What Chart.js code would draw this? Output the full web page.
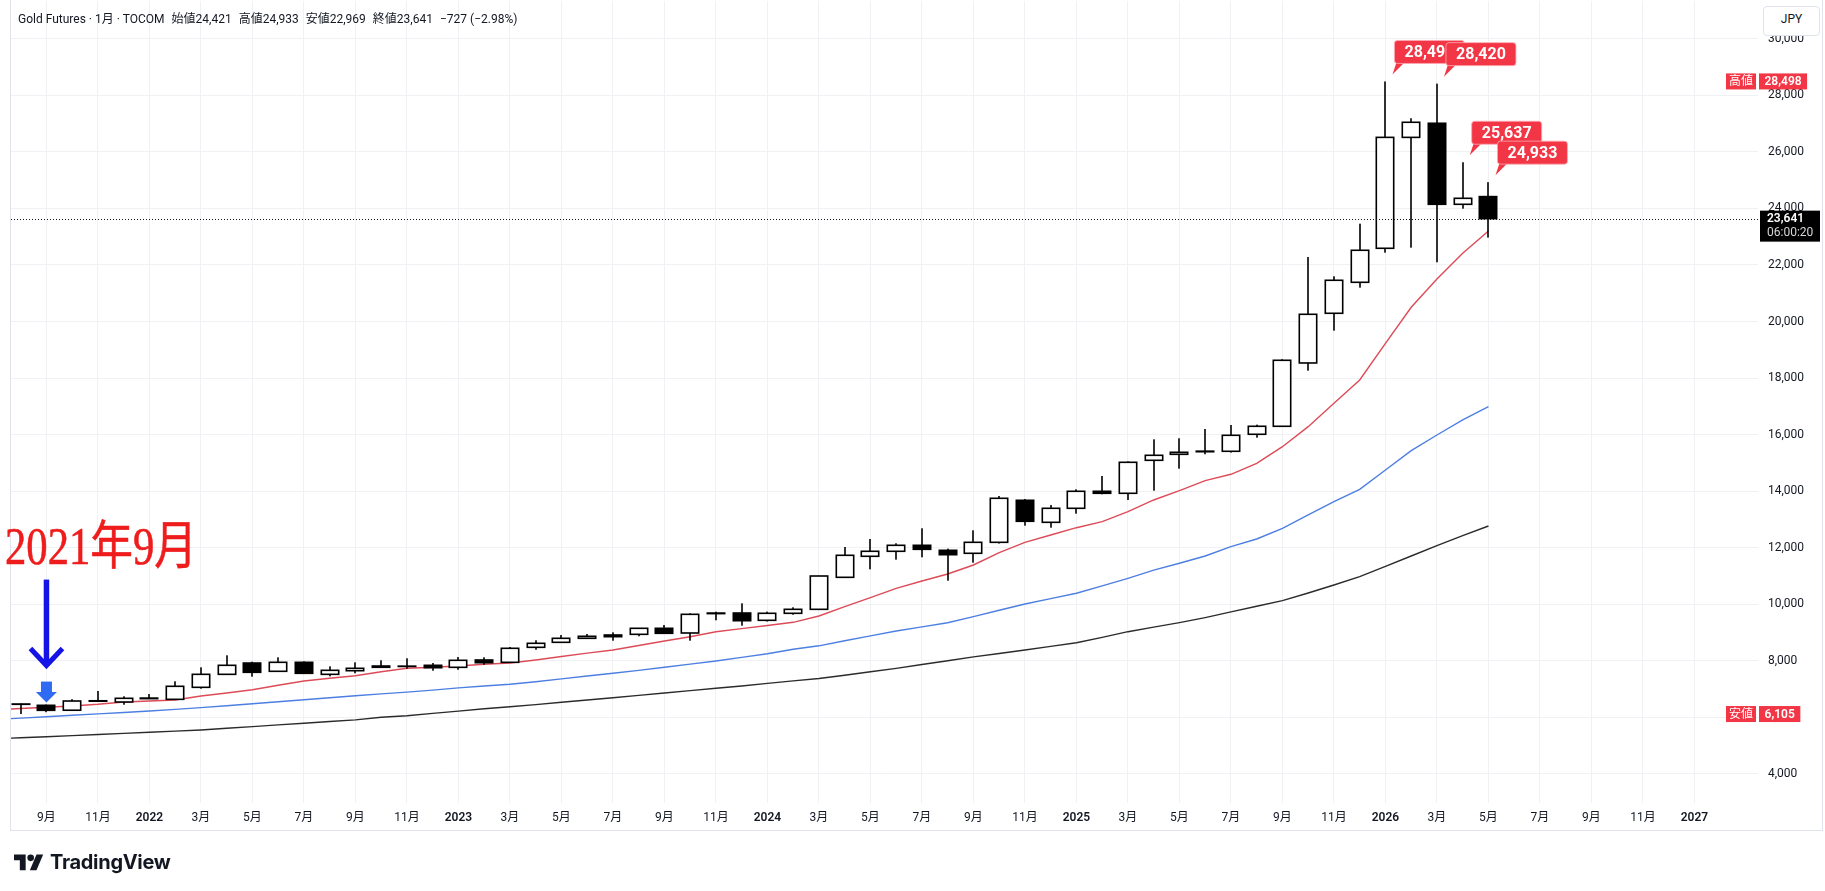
<!DOCTYPE html>
<html lang="ja">
<head>
<meta charset="utf-8">
<title>Gold Futures · 1月 · TOCOM</title>
<script src="https://cdn.jsdelivr.net/npm/chart.js@4.4.1/dist/chart.umd.min.js"></script>
<style>
  html, body { margin: 0; padding: 0; background: #fff; }
  body { width: 1825px; height: 891px; position: relative; overflow: hidden;
         font-family: Roboto, "Noto Sans CJK JP", sans-serif; color: #131722; }
  #chart { position: absolute; left: 0; top: 0; }
  #frame { position: absolute; left: 10px; top: -1px; width: 1813px; height: 832px;
           border: 1px solid #e0e3eb; box-sizing: border-box; pointer-events: none; }
  #legend { position: absolute; left: 18px; top: 9px; font-size: 12px; white-space: nowrap; }
  #legend span { margin-right: 7px; }
  #jpy { position: absolute; left: 1763px; top: 6px; width: 57px; height: 30px; background: #fff;
         border: 1px solid #e0e3eb; border-radius: 4px; box-sizing: border-box;
         font-size: 12px; text-align: center; line-height: 24px; }
  #note { position: absolute; left: 5px; top: 519px; color: #ee1c1c; font-size: 52px;
          font-family: "Liberation Serif", "Noto Sans CJK JP", serif; white-space: nowrap;
          -webkit-text-stroke: 0.6px #ee1c1c;
          transform: scaleX(0.82); transform-origin: 0 0; line-height: 56px; }
  #logo { position: absolute; left: 14px; top: 850px; display: flex; align-items: center;
          font-family: Inter, Roboto, sans-serif; font-weight: 700; font-size: 20px; letter-spacing: -0.3px; }
  #logo svg { margin-right: 6px; }
</style>
</head>
<body>
<canvas id="chart" width="1825" height="891"></canvas>
<div id="frame"></div>
<div id="legend"><span>Gold Futures · 1月 · TOCOM</span><span>始値24,421</span><span>高値24,933</span><span>安値22,969</span><span>終値23,641</span><span>−727 (−2.98%)</span></div>
<div id="jpy">JPY</div>
<div id="note">2021年9月</div>
<div id="logo"><svg width="30" height="20" viewBox="0 0 36 24"><path d="M14 22H7V10H0V3h14z" fill="#131722"/><circle cx="20" cy="7" r="4" fill="#131722"/><path d="M27 22h-8l8-19h8z" fill="#131722"/></svg>TradingView</div>
<script>
/* ──────── DATA ──────── */

// monthly candles, Aug 2021 .. May 2026 (index 0 = 2021-08)
const months = [
  '2021-08','2021-09','2021-10','2021-11','2021-12',
  '2022-01','2022-02','2022-03','2022-04','2022-05','2022-06','2022-07','2022-08','2022-09','2022-10','2022-11','2022-12',
  '2023-01','2023-02','2023-03','2023-04','2023-05','2023-06','2023-07','2023-08','2023-09','2023-10','2023-11','2023-12',
  '2024-01','2024-02','2024-03','2024-04','2024-05','2024-06','2024-07','2024-08','2024-09','2024-10','2024-11','2024-12',
  '2025-01','2025-02','2025-03','2025-04','2025-05','2025-06','2025-07','2025-08','2025-09','2025-10','2025-11','2025-12',
  '2026-01','2026-02','2026-03','2026-04','2026-05'
];
const opens = [
  6450, 6414, 6240, 6560, 6531,
  6650, 6626, 7051, 7511, 7911, 7618, 7936, 7511, 7639, 7805, 7790, 7830,
  7759, 8018, 7936, 8467, 8644, 8786, 8903, 8927, 9140, 8974, 9660, 9681,
  9423, 9671, 9812, 10945, 11689, 11866, 12078, 11901, 11795, 12184, 13671, 12892,
  13388, 13990, 13919, 15087, 15299, 15390, 15406, 16008, 16291, 18532, 20291, 21388,
  22592, 26518, 27017, 24149, 24421
];
const highs = [
  6475, 6440, 6630, 6920, 6733,
  6814, 7264, 7759, 8184, 7958, 8113, 7970, 7795, 7936, 8007, 8078, 7911,
  8124, 8113, 8478, 8715, 8903, 8938, 8998, 9150, 9257, 9670, 9728, 10025,
  9730, 9883, 11000, 12018, 12301, 12149, 12680, 11960, 12609, 13823, 13717, 13505,
  14060, 14531, 15050, 15830, 15866, 16195, 16337, 16348, 18663, 22284, 21601, 23463,
  28498, 27194, 28420, 25637, 24933
];
const lows = [
  6105, 6170, 6230, 6530, 6435,
  6640, 6610, 7002, 7500, 7427, 7600, 7520, 7440, 7547, 7740, 7710, 7639,
  7674, 7851, 7920, 8382, 8630, 8770, 8701, 8857, 8950, 8701, 9423, 9232,
  9380, 9620, 9800, 10920, 11228, 11569, 11653, 10825, 11462, 12140, 12772, 12701,
  13197, 13883, 13682, 14011, 14790, 15300, 15360, 15887, 16280, 18259, 19675, 21197,
  22436, 22613, 22096, 23993, 22969
];
const closes = [
  6460, 6237, 6566, 6575, 6662,
  6670, 7087, 7511, 7830, 7582, 7936, 7547, 7653, 7724, 7760, 7800, 7745,
  8007, 7922, 8432, 8609, 8786, 8857, 8843, 9140, 8963, 9635, 9680, 9409,
  9671, 9812, 10991, 11724, 11866, 12078, 11936, 11745, 12184, 13742, 12928, 13388,
  13990, 13919, 15016, 15264, 15370, 15410, 15972, 16291, 18627, 20255, 21459, 22521,
  26518, 27052, 24149, 24361, 23641
];

// moving averages, first value is 2021-07 (just left of the view)
const maRed = [
  6260, 6300, 6343, 6390, 6450, 6531, 6566, 6602, 6743, 6850, 6966, 7122, 7274, 7370, 7462, 7604, 7724,
  7760, 7805, 7865, 7911, 8020, 8140, 8260, 8372, 8530, 8690, 8843, 9020, 9130, 9240, 9352, 9575,
  9905, 10223, 10556, 10814, 11062, 11381, 11816, 12184, 12443, 12701, 12914, 13268, 13682, 14011,
  14365, 14592, 14981, 15569, 16277, 17105, 17930, 19229, 20503, 21505, 22415, 23205
];
const maBlue = [
  5910, 5960, 6011, 6060, 6110, 6160, 6210, 6270, 6331, 6400, 6470, 6540, 6610, 6680, 6750, 6820, 6880,
  6950, 7030, 7100, 7158, 7250, 7350, 7450, 7547, 7650, 7760, 7870, 7982, 8110, 8240, 8400, 8520,
  8701, 8870, 9044, 9190, 9338, 9551, 9780, 10000, 10190, 10379, 10640, 10910, 11200, 11441,
  11699, 12029, 12301, 12680, 13151, 13622, 14060, 14744, 15427, 15983, 16514, 16985
];
const maBlack = [
  5230, 5265, 5300, 5340, 5380, 5420, 5460, 5500, 5540, 5600, 5660, 5720, 5780, 5840, 5900, 5990, 6045,
  6130, 6210, 6290, 6365, 6440, 6520, 6600, 6683, 6766, 6850, 6933, 7016, 7100, 7190, 7280, 7365,
  7480, 7600, 7720, 7860, 7990, 8130, 8250, 8372, 8500, 8630, 8820, 9020, 9180, 9340,
  9520, 9720, 9920, 10120, 10390, 10673, 10967, 11330, 11700, 12070, 12420, 12761
];

// time axis: one label every two months, starting at 2021-09 (index 1)
const axisLabels = [
  '9月','11月','2022','3月','5月','7月','9月','11月','2023','3月','5月','7月','9月','11月',
  '2024','3月','5月','7月','9月','11月','2025','3月','5月','7月','9月','11月',
  '2026','3月','5月','7月','9月','11月','2027'
];
const priceTicks = [4000, 6000, 8000, 10000, 12000, 14000, 16000, 18000, 20000, 22000, 24000, 26000, 28000, 30000];

// flagged highs and range labels
const calloutIdx = [53, 55, 56, 57];
const rangeHigh = 28498;
const rangeLow = 6105;
const markIdx = 1;   // 2021-09

/* ──────── LAYOUT ──────── */

const X_MIN = -0.377, X_MAX = 67.468;
const Y_MIN = 2956, Y_MAX = 31345;
const RED = '#dc4b57', BLUE = '#4d7fe2', BLACK = '#2b2b2b';
const GRID = '#eff1f5';
const TV_RED = '#f23645';

Chart.defaults.font.family = 'Roboto, "Noto Sans CJK JP", sans-serif';
Chart.defaults.color = '#131722';

const tickIdx = axisLabels.map((_, i) => 1 + i * 2);
const fmt = v => Number(v).toLocaleString('en-US');
const maPoints = arr => arr.map((v, i) => ({ x: i - 1, y: v }));
const noPad = s => { s.paddingTop = 0; s.paddingBottom = 0; s.paddingLeft = 0; s.paddingRight = 0; };

/* ──────── CANDLES ──────── */

const candlePlugin = {
  id: 'candles',
  afterDatasetsDraw(chart) {
    const { ctx, chartArea: a, scales: { x, y } } = chart;
    const step = x.getPixelForValue(1) - x.getPixelForValue(0);
    const bw = Math.round(step * 0.74);
    const lw = 1.6;
    ctx.save();
    ctx.beginPath();
    ctx.rect(a.left, a.top, a.right - a.left, a.bottom - a.top);
    ctx.clip();
    opens.forEach((o, i) => {
      const c = closes[i];
      const cx = Math.round(x.getPixelForValue(i));
      const yo = y.getPixelForValue(o), yc = y.getPixelForValue(c);
      const yh = y.getPixelForValue(highs[i]), yl = y.getPixelForValue(lows[i]);
      const top = Math.min(yo, yc), bot = Math.max(yo, yc);
      const left = cx - bw / 2;
      ctx.fillStyle = '#000';
      ctx.fillRect(cx - 0.8, yh, 1.6, top - yh);
      ctx.fillRect(cx - 0.8, bot, 1.6, yl - bot);
      const h = Math.max(bot - top, 0);
      ctx.fillRect(left, top - lw / 2, bw, h + lw);
      if (c >= o && h > lw) {
        ctx.fillStyle = '#fff';
        ctx.fillRect(left + lw, top + lw / 2, bw - 2 * lw, h - lw);
      }
    });
    ctx.restore();
  }
};

/* ──────── ANNOTATIONS ──────── */

function roundRect(ctx, x, y, w, h, r) {
  ctx.beginPath();
  ctx.moveTo(x + r, y);
  ctx.arcTo(x + w, y, x + w, y + h, r);
  ctx.arcTo(x + w, y + h, x, y + h, r);
  ctx.arcTo(x, y + h, x, y, r);
  ctx.arcTo(x, y, x + w, y, r);
  ctx.closePath();
}

function axisTag(ctx, x0, yMid, key, val) {
  ctx.font = '12px Roboto, "Noto Sans CJK JP", sans-serif';
  ctx.textBaseline = 'middle';
  ctx.textAlign = 'center';
  const h = 16;
  ctx.fillStyle = TV_RED;
  ctx.fillRect(x0 - 32, yMid - h / 2, 30, h);
  ctx.fillStyle = '#fff';
  ctx.fillText(key, x0 - 17, yMid + 0.5);
  const w = ctx.measureText(val).width + 12;
  ctx.fillStyle = TV_RED;
  ctx.fillRect(x0 + 1, yMid - h / 2, w, h);
  ctx.fillStyle = '#fff';
  ctx.font = '600 12px Roboto, sans-serif';
  ctx.fillText(val, x0 + 1 + w / 2, yMid + 0.5);
}

const notePlugin = {
  id: 'notes',
  afterDraw(chart) {
    const { ctx, chartArea: a, scales: { x, y } } = chart;
    ctx.save();

    // last price dotted line
    const yLast = Math.round(y.getPixelForValue(closes[closes.length - 1])) + 0.5;
    ctx.setLineDash([1, 2]);
    ctx.strokeStyle = '#131722';
    ctx.lineWidth = 1;
    ctx.beginPath();
    ctx.moveTo(a.left, yLast);
    ctx.lineTo(a.right, yLast);
    ctx.stroke();
    ctx.setLineDash([]);

    // arrows pointing at 2021-09
    const mx = x.getPixelForValue(markIdx);
    const my = y.getPixelForValue(highs[markIdx]) - 2;
    ctx.fillStyle = '#2f6bf2';
    ctx.fillRect(mx - 5.5, my - 21, 11, 11);
    ctx.beginPath();
    ctx.moveTo(mx - 10.5, my - 10.5);
    ctx.lineTo(mx + 10.5, my - 10.5);
    ctx.lineTo(mx, my);
    ctx.closePath();
    ctx.fill();

    ctx.strokeStyle = '#1414e6';
    ctx.lineCap = 'butt';
    ctx.lineWidth = 5.5;
    ctx.beginPath();
    ctx.moveTo(mx, my - 123);
    ctx.lineTo(mx, my - 38);
    ctx.stroke();
    ctx.lineWidth = 5;
    ctx.lineJoin = 'miter';
    ctx.beginPath();
    ctx.moveTo(mx - 16, my - 54);
    ctx.lineTo(mx, my - 37);
    ctx.lineTo(mx + 16, my - 54);
    ctx.stroke();

    // flagged highs
    calloutIdx.forEach(i => {
      const cx = x.getPixelForValue(i);
      const yh = y.getPixelForValue(highs[i]);
      const txt = fmt(highs[i]);
      const bx = cx + 9, by = yh - 41, bwid = 70, bh = 23;
      ctx.fillStyle = TV_RED;
      ctx.beginPath();
      ctx.moveTo(cx + 7, yh - 7);
      ctx.lineTo(cx + 11, by + bh - 1);
      ctx.lineTo(cx + 19, by + bh - 1);
      ctx.closePath();
      ctx.fill();
      roundRect(ctx, bx, by, bwid, bh, 3);
      ctx.fill();
      ctx.strokeStyle = 'rgba(255,170,180,0.8)';
      ctx.lineWidth = 1;
      ctx.stroke();
      ctx.fillStyle = '#fff';
      ctx.font = 'bold 16px Roboto, sans-serif';
      ctx.textAlign = 'center';
      ctx.textBaseline = 'middle';
      ctx.fillText(txt, bx + bwid / 2, by + bh / 2 + 1);
    });

    // price axis tags
    axisTag(ctx, a.right, y.getPixelForValue(rangeHigh), '高値', fmt(rangeHigh));
    axisTag(ctx, a.right, y.getPixelForValue(rangeLow), '安値', fmt(rangeLow));

    const yc = y.getPixelForValue(closes[closes.length - 1]);
    ctx.fillStyle = '#000';
    ctx.fillRect(a.right + 2, yc - 8, 60, 31);
    ctx.textAlign = 'left';
    ctx.textBaseline = 'middle';
    ctx.fillStyle = '#fff';
    ctx.font = '600 12px Roboto, sans-serif';
    ctx.fillText(fmt(closes[closes.length - 1]), a.right + 9, yc);
    ctx.fillStyle = '#d6d6d6';
    ctx.font = '12px Roboto, sans-serif';
    ctx.fillText('06:00:20', a.right + 9, yc + 14);

    ctx.restore();
  }
};

/* ──────── CHART ──────── */

const lineSet = (data, color) => ({
  data, borderColor: color, borderWidth: 1.4, pointRadius: 0, tension: 0, fill: false
});

new Chart(document.getElementById('chart'), {
  type: 'line',
  data: {
    datasets: [
      lineSet(maPoints(maBlack), BLACK),
      lineSet(maPoints(maBlue), BLUE),
      lineSet(maPoints(maRed), RED)
    ]
  },
  options: {
    responsive: false,
    animation: false,
    devicePixelRatio: 1,
    layout: { padding: { left: 11, top: 1, right: 0, bottom: 61 } },
    plugins: { legend: { display: false }, tooltip: { enabled: false } },
    scales: {
      x: {
        type: 'linear', min: X_MIN, max: X_MAX, position: 'bottom',
        afterBuildTicks: s => { s.ticks = tickIdx.map(v => ({ value: v })); },
        afterFit: s => { s.height = 27; noPad(s); },
        ticks: {
          autoSkip: false, maxRotation: 0, padding: 8,
          callback: v => axisLabels[(v - 1) / 2],
          font: c => ({ size: 12, weight: /^\d{4}$/.test(axisLabels[c.index] || '') ? '600' : '400' })
        },
        grid: { color: GRID, drawTicks: false },
        border: { display: false }
      },
      y: {
        type: 'linear', position: 'right', min: Y_MIN, max: Y_MAX,
        afterBuildTicks: s => { s.ticks = priceTicks.map(v => ({ value: v })); },
        afterFit: s => { s.width = 67; noPad(s); },
        ticks: { padding: 10, font: { size: 12 }, callback: v => fmt(v) },
        grid: { color: GRID, drawTicks: false },
        border: { display: false }
      }
    }
  },
  plugins: [candlePlugin, notePlugin]
});
</script>
</body>
</html>
